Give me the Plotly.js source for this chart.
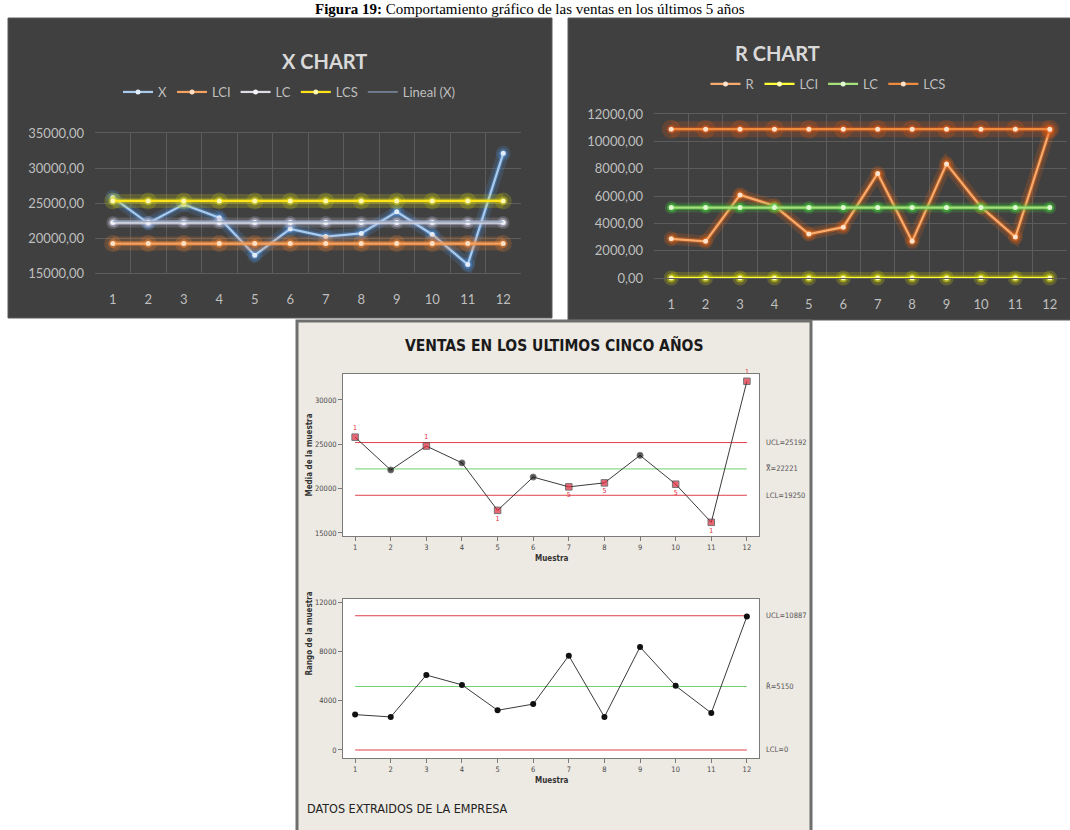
<!DOCTYPE html>
<html>
<head>
<meta charset="utf-8">
<script src="https://cdn.plot.ly/plotly-3.0.1.min.js"></script>
<style>html,body{margin:0;padding:0;background:#fff}#chart{width:1070px;height:830px}</style>
</head>
<body>
<div id="chart"></div>
<script>
// ---------------- DATA ----------------
const muestras = [1, 2, 3, 4, 5, 6, 7, 8, 9, 10, 11, 12];
const ventasX = [25800, 22100, 24800, 22900, 17550, 21300, 20200, 20650, 23750, 20500, 16200, 32100];
const rangoR  = [2870, 2680, 6080, 5280, 3220, 3720, 7650, 2680, 8350, 5200, 3000, 10830];

// Excel X chart control lines
const xLCI = [19200, 19200, 19200, 19200, 19200, 19200, 19200, 19200, 19200, 19200, 19200, 19200];
const xLC  = [22200, 22200, 22200, 22200, 22200, 22200, 22200, 22200, 22200, 22200, 22200, 22200];
const xLCS = [25300, 25300, 25300, 25300, 25300, 25300, 25300, 25300, 25300, 25300, 25300, 25300];
const linealPos = [1, 12];
const linealX   = [22350, 22290];

// Excel R chart control lines
const rLCI = [0, 0, 0, 0, 0, 0, 0, 0, 0, 0, 0, 0];
const rLC  = [5150, 5150, 5150, 5150, 5150, 5150, 5150, 5150, 5150, 5150, 5150, 5150];
const rLCS = [10887, 10887, 10887, 10887, 10887, 10887, 10887, 10887, 10887, 10887, 10887, 10887];

// Minitab chart limits
const mUCL  = [25192, 25192, 25192, 25192, 25192, 25192, 25192, 25192, 25192, 25192, 25192, 25192];
const mXbar = [22221, 22221, 22221, 22221, 22221, 22221, 22221, 22221, 22221, 22221, 22221, 22221];
const mLCL  = [19250, 19250, 19250, 19250, 19250, 19250, 19250, 19250, 19250, 19250, 19250, 19250];
const mRUCL = [10887, 10887, 10887, 10887, 10887, 10887, 10887, 10887, 10887, 10887, 10887, 10887];
const mRbar = [5150, 5150, 5150, 5150, 5150, 5150, 5150, 5150, 5150, 5150, 5150, 5150];
const mRLCL = [0, 0, 0, 0, 0, 0, 0, 0, 0, 0, 0, 0];
const fallaX  = [1, 0, 1, 0, 1, 0, 1, 1, 0, 1, 1, 1];
const pruebaX = ['1', '', '1', '', '1', '', '5', '5', '', '5', '1', '1'];
const posPrueba = ['top center', 'top center', 'top center', 'top center', 'bottom center', 'top center',
                   'bottom center', 'bottom center', 'top center', 'bottom center', 'bottom center', 'top center'];

const xTicksExcelX = [15000, 20000, 25000, 30000, 35000];
const xTicksExcelR = [0, 2000, 4000, 6000, 8000, 10000, 12000];
const ticksMinX = [15000, 20000, 25000, 30000];
const ticksMinR = [0, 4000, 8000, 12000];

// ---------------- HELPERS ----------------
const W = 1070, H = 830;
const fx = p => p / W;
const fy = p => 1 - p / H;

const traces = [];
function glow(name, x, y, xa, ya, core, rgb, mfill, legendId, gw) {
  gw = gw || 12;
  traces.push({type: 'scatter', x, y, xaxis: xa, yaxis: ya, mode: 'lines+markers', hoverinfo: 'skip',
    showlegend: false, cliponaxis: false,
    line: {color: `rgba(${rgb},0.20)`, width: gw}, marker: {size: gw + 3, color: `rgba(${rgb},0.22)`}});
  traces.push({type: 'scatter', x, y, xaxis: xa, yaxis: ya, mode: 'lines+markers', hoverinfo: 'skip',
    showlegend: false, cliponaxis: false,
    line: {color: `rgba(${rgb},0.45)`, width: 5}, marker: {size: 9, color: `rgba(${rgb},0.5)`}});
  traces.push({type: 'scatter', name, x, y, xaxis: xa, yaxis: ya, mode: 'lines+markers',
    legend: legendId, cliponaxis: false,
    line: {color: core, width: 2.2}, marker: {size: 5, color: mfill}});
}

// X CHART (Excel)
glow('X', muestras, ventasX, 'x', 'y', '#a9cbee', '79,140,210', '#e4eefa', 'legend', 12);
glow('LCI', muestras, xLCI, 'x', 'y', '#f6a25e', '240,130,50', '#fde0c4', 'legend', 14);
glow('LC', muestras, xLC, 'x', 'y', '#dcdce6', '190,190,215', '#f4f4f8', 'legend', 10);
glow('LCS', muestras, xLCS, 'x', 'y', '#ffe21a', '210,210,20', '#fff7b0', 'legend', 14);
traces.push({type: 'scatter', name: 'Lineal (X)', x: linealPos, y: linealX, xaxis: 'x', yaxis: 'y',
  mode: 'lines', legend: 'legend', line: {color: 'rgba(140,160,190,0.8)', width: 1.5}, hoverinfo: 'skip'});

// R CHART (Excel)
glow('R', muestras, rangoR, 'x2', 'y2', '#f8ab6c', '230,100,20', '#fde3cc', 'legend2', 12);
glow('LCI', muestras, rLCI, 'x2', 'y2', '#ffff33', '220,220,0', '#ffffb3', 'legend2', 12);
glow('LC', muestras, rLC, 'x2', 'y2', '#a6e07a', '70,200,60', '#e0f8d0', 'legend2', 10);
glow('LCS', muestras, rLCS, 'x2', 'y2', '#f08a3c', '225,85,20', '#fde0c8', 'legend2', 16);

// MINITAB upper
function limitLine(y, xa, ya, color) {
  traces.push({type: 'scatter', x: muestras, y, xaxis: xa, yaxis: ya, mode: 'lines', showlegend: false,
    hoverinfo: 'skip', line: {color, width: 1}});
}
limitLine(mUCL, 'x3', 'y3', '#e0404a');
limitLine(mXbar, 'x3', 'y3', '#70d070');
limitLine(mLCL, 'x3', 'y3', '#e0404a');
traces.push({type: 'scatter', x: muestras, y: ventasX, xaxis: 'x3', yaxis: 'y3', mode: 'lines+markers+text',
  showlegend: false, cliponaxis: false, hoverinfo: 'skip',
  line: {color: '#3a3a3a', width: 1},
  marker: {size: fallaX.map(f => f ? 6.5 : 6), symbol: fallaX.map(f => f ? 'square' : 'circle'),
           color: fallaX.map(f => f ? '#e0283a' : '#111')},
  text: pruebaX, textposition: posPrueba, textfont: {size: 7, color: '#e0283a', family: 'DejaVu Sans Condensed'}});

// MINITAB lower
limitLine(mRUCL, 'x4', 'y4', '#e0404a');
limitLine(mRbar, 'x4', 'y4', '#70d070');
limitLine(mRLCL, 'x4', 'y4', '#e0404a');
traces.push({type: 'scatter', x: muestras, y: rangoR, xaxis: 'x4', yaxis: 'y4', mode: 'lines+markers',
  showlegend: false, cliponaxis: false, hoverinfo: 'skip',
  line: {color: '#3a3a3a', width: 1}, marker: {size: 6, color: '#111'}});

// ---------------- LAYOUT ----------------
const excelFont = {family: 'Lato, Open Sans, sans-serif', size: 13, color: '#bfbfbf'};
function excelX(domain) {
  return {domain, range: [0.5, 12.5], tickmode: 'array', tickvals: muestras, showgrid: false, zeroline: false,
    showline: true, mirror: true, linecolor: '#5c5c5c', linewidth: 1, ticks: '', tickfont: excelFont,
    ticklabelstandoff: 14, fixedrange: true, automargin: false,
    minor: {tickmode: 'linear', tick0: 0.5, dtick: 1, showgrid: true, gridcolor: '#5c5c5c', gridwidth: 1, ticks: ''}};
}
function excelY(domain, range, tickvals, anchor) {
  return {domain, range, tickmode: 'array', tickvals, tickformat: '.2f', showgrid: true, gridcolor: '#5c5c5c',
    zeroline: false, showline: false, ticks: '', tickfont: excelFont, ticklabelstandoff: 10, anchor,
    fixedrange: true, automargin: false};
}
const minFont = {family: 'DejaVu Sans Condensed, sans-serif', size: 7.5, color: '#4a4a4a'};
function minX(domain, anchor) {
  return {domain, range: [0.66, 12.34], tickmode: 'array', tickvals: muestras, showgrid: false, zeroline: false,
    showline: true, mirror: true, linecolor: '#7a7a7a', linewidth: 1, ticks: 'outside', ticklen: 4,
    tickcolor: '#7a7a7a', tickfont: minFont, anchor, fixedrange: true, automargin: false};
}
function minY(domain, range, tickvals, anchor) {
  return {domain, range, tickmode: 'array', tickvals, tickformat: 'd', showgrid: false, zeroline: false,
    showline: true, mirror: true, linecolor: '#7a7a7a', linewidth: 1, ticks: 'outside', ticklen: 4,
    tickcolor: '#7a7a7a', tickfont: minFont, anchor, fixedrange: true, automargin: false};
}

const ann = [];
ann.push({text: '<b>Figura 19:</b> Comportamiento gráfico de las ventas en los últimos 5 años',
  xref: 'paper', yref: 'paper', x: fx(530), y: fy(9), xanchor: 'center', yanchor: 'middle', showarrow: false,
  borderpad: 0, font: {family: 'Liberation Serif, Times New Roman, serif', size: 15, color: '#000'}});
ann.push({text: '<b>X CHART</b>', xref: 'paper', yref: 'paper', x: fx(280), y: fy(47), showarrow: false,
  font: {family: 'Lato, sans-serif', size: 20, color: '#d9d9d9'}});
ann.push({text: '<b>R CHART</b>', xref: 'paper', yref: 'paper', x: fx(822), y: fy(39), showarrow: false,
  font: {family: 'Lato, sans-serif', size: 20, color: '#d9d9d9'}});
ann.push({text: '<b>VENTAS EN LOS ULTIMOS CINCO AÑOS</b>', xref: 'paper', yref: 'paper', x: fx(554), y: fy(345),
  showarrow: false, font: {family: 'DejaVu Sans Condensed, sans-serif', size: 15.5, color: '#1a1a1a'}});
ann.push({text: 'DATOS EXTRAIDOS DE LA EMPRESA', xref: 'paper', yref: 'paper', x: fx(305), y: fy(818),
  xanchor: 'left', showarrow: false, font: {family: 'DejaVu Sans Condensed, sans-serif', size: 12.5, color: '#222'}});
ann.push({text: '<b>Media de la muestra</b>', xref: 'paper', yref: 'paper', x: fx(302), y: fy(455), textangle: -90,
  showarrow: false, font: {family: 'DejaVu Sans Condensed, sans-serif', size: 8, color: '#333'}});
ann.push({text: '<b>Rango de la muestra</b>', xref: 'paper', yref: 'paper', x: fx(302), y: fy(678), textangle: -90,
  showarrow: false, font: {family: 'DejaVu Sans Condensed, sans-serif', size: 8, color: '#333'}});
ann.push({text: '<b>Muestra</b>', xref: 'paper', yref: 'paper', x: fx(551), y: fy(565), showarrow: false,
  font: {family: 'DejaVu Sans Condensed, sans-serif', size: 8, color: '#333'}});
ann.push({text: '<b>Muestra</b>', xref: 'paper', yref: 'paper', x: fx(551), y: fy(787), showarrow: false,
  font: {family: 'DejaVu Sans Condensed, sans-serif', size: 8, color: '#333'}});
const lblFont = {family: 'DejaVu Sans Condensed, sans-serif', size: 7.5, color: '#555'};
function limLbl(txt, val, yref) {
  ann.push({text: txt, xref: 'paper', yref, x: fx(764), y: val, xanchor: 'left', yanchor: 'middle',
    showarrow: false, font: lblFont});
}
limLbl('UCL=' + mUCL[0], mUCL[0], 'y3');
limLbl('X̿=' + mXbar[0], mXbar[0], 'y3');
limLbl('LCL=' + mLCL[0], mLCL[0], 'y3');
limLbl('UCL=' + mRUCL[0], mRUCL[0], 'y4');
limLbl('R̄=' + mRbar[0], mRbar[0], 'y4');
limLbl('LCL=' + mRLCL[0], mRLCL[0], 'y4');

const shapes = [
  {type: 'rect', xref: 'paper', yref: 'paper', x0: fx(8), x1: fx(552), y0: fy(318), y1: fy(18),
   fillcolor: '#404040', line: {color: '#5a5a5a', width: 1}, layer: 'below'},
  {type: 'rect', xref: 'paper', yref: 'paper', x0: fx(568), x1: fx(1072), y0: fy(320), y1: fy(18),
   fillcolor: '#404040', line: {color: '#5a5a5a', width: 1}, layer: 'below'},
  {type: 'rect', xref: 'paper', yref: 'paper', x0: fx(297), x1: fx(811), y0: fy(832), y1: fy(321),
   fillcolor: '#ede9e3', line: {color: '#6e6e6e', width: 3}, layer: 'below'},
  {type: 'rect', xref: 'x3 domain', yref: 'y3 domain', x0: 0, x1: 1, y0: 0, y1: 1,
   fillcolor: '#ffffff', line: {width: 0}, layer: 'below'},
  {type: 'rect', xref: 'x4 domain', yref: 'y4 domain', x0: 0, x1: 1, y0: 0, y1: 1,
   fillcolor: '#ffffff', line: {width: 0}, layer: 'below'}
];

const legendBase = {orientation: 'h', xanchor: 'center', yanchor: 'middle', bgcolor: 'rgba(0,0,0,0)',
  font: {family: 'Lato, sans-serif', size: 13, color: '#bfbfbf'}, itemclick: false, itemdoubleclick: false};

const layout = {
  width: W, height: H, margin: {l: 0, r: 0, t: 0, b: 0, pad: 0, autoexpand: false},
  paper_bgcolor: '#ffffff', plot_bgcolor: 'rgba(0,0,0,0)', separators: ',.',
  showlegend: true, hovermode: false,
  legend: Object.assign({}, legendBase, {x: fx(289), y: fy(92)}),
  legend2: Object.assign({}, legendBase, {x: fx(828), y: fy(84)}),
  xaxis: excelX([fx(95), fx(521)]),
  yaxis: excelY([fy(273), fy(133)], [15000, 35000], xTicksExcelX, 'x'),
  xaxis2: Object.assign(excelX([fx(654), fx(1067)]), {anchor: 'y2'}),
  yaxis2: excelY([fy(278), fy(114)], [0, 12000], xTicksExcelR, 'x2'),
  xaxis3: minX([fx(343), fx(759)], 'y3'),
  yaxis3: minY([fy(536), fy(374)], [14660, 32920], ticksMinX, 'x3'),
  xaxis4: minX([fx(343), fx(759)], 'y4'),
  yaxis4: minY([fy(758), fy(599)], [-650, 12245], ticksMinR, 'x4'),
  shapes, annotations: ann
};
layout.xaxis.anchor = 'y';

Plotly.newPlot('chart', traces, layout, {displayModeBar: false, staticPlot: true});
</script>
</body>
</html>
